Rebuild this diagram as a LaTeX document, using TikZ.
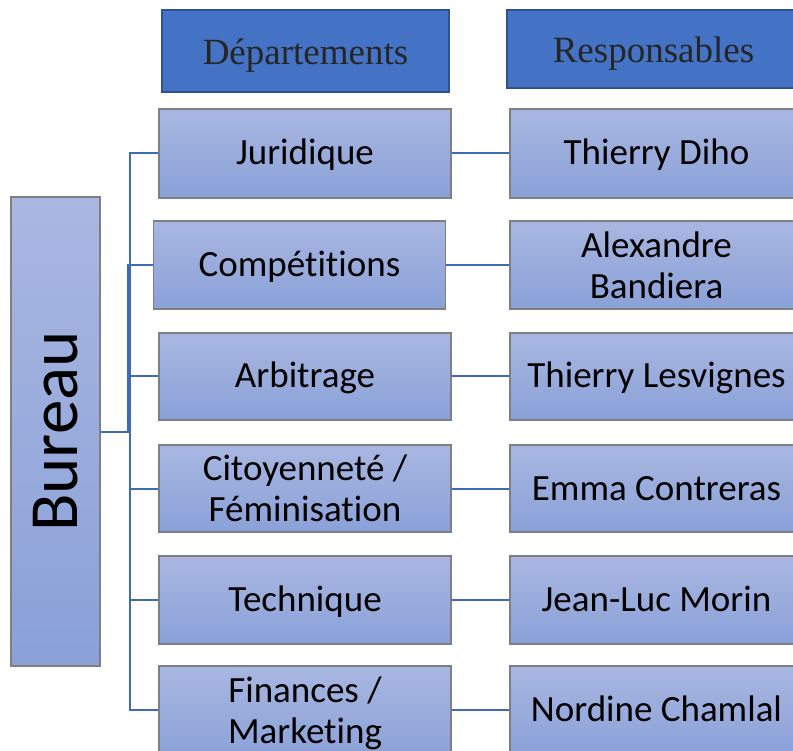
\documentclass[tikz,border=0pt]{standalone}
\usepackage{fontspec}
\setmainfont{Carlito}[Ligatures={NoCommon,NoContextual}]
\newfontfamily\timesf{Liberation Serif}
\definecolor{hdrfill}{HTML}{4472C4}
\definecolor{hdrdraw}{HTML}{2F528F}
\definecolor{hdrtext}{HTML}{262626}
\definecolor{boxtop}{HTML}{A9B7E1}
\definecolor{boxbot}{HTML}{8AA1D8}
\definecolor{boxdraw}{HTML}{7F7F7F}
\definecolor{linkcol}{HTML}{3F6AB8}
\begin{document}
\begin{tikzpicture}[x=1pt,y=-1pt,
  hdr/.style={draw=hdrdraw, line width=1.8pt, fill=hdrfill, inner sep=0pt,
    text=hdrtext, font=\timesf\fontsize{37}{41}\selectfont,
    text height=32pt, text depth=4pt},
  gbox/.style={draw=boxdraw, line width=1.1pt, top color=boxtop, bottom color=boxbot,
    inner sep=0pt, align=center, font=\fontsize{37}{41}\selectfont},
  one/.style={text height=30pt, text depth=7pt},
  dept/.style={gbox, minimum width=292pt, minimum height=89pt},
  resp/.style={gbox, minimum width=293pt, minimum height=88pt},
  link/.style={draw=linkcol, line width=2pt}
]
\useasboundingbox (0,0) rectangle (793,751);
% headers
\node[hdr, minimum width=287pt, minimum height=82pt] (hd) at (305.5,51) {Départements};
\node[hdr, minimum width=293pt, minimum height=78pt] (hr) at (653.5,49) {Responsables};
% bureau
\node[gbox, minimum width=89pt, minimum height=469pt] (bureau) at (55.5,431.5) {};
\node[rotate=90, font=\fontsize{69}{75}\selectfont, inner sep=0pt] (bt) at (bureau.center) {Bureau};
% departments
\node[dept, one] (d1) at (305,153.5) {Juridique};
\node[dept, one, minimum height=88pt] (d2) at (299.5,265) {Compét\kern0pt itions};
\node[dept, one, minimum height=87pt] (d3) at (305,376.5) {Arbitrage};
\node[dept, minimum height=87pt] (d4) at (305,488.5) {Citoyenneté /\\Féminisation};
\node[dept, one, minimum height=88pt] (d5) at (305,600) {Technique};
\node[dept, minimum height=94pt] (d6) at (305,713) {Finances /\\Marketing};
% responsables
\node[resp, one, minimum height=89pt] (r1) at (656.5,153.5) {Thierry Diho};
\node[resp] (r2) at (656.5,265) {Alexandre\\Bandiera};
\node[resp, one, minimum height=87pt] (r3) at (656.5,376.5) {Thierry Lesvignes};
\node[resp, one, minimum height=87pt] (r4) at (656.5,488.5) {Emma Contreras};
\node[resp, one] (r5) at (656.5,600) {Jean-Luc Morin};
\node[resp, one] (r6) at (656.5,710) {Nordine Chamlal};
% connectors bureau -> departments
\foreach \d in {d1,d3,d4,d5}{
  \draw[link] (bureau.east) -- ++(29,0) |- (\d.west);
}
\draw[link] (bureau.east) -- ++(29,0) |- (r6.west -| d6.west);
\draw[link] (bureau.east) -- ++(27,0) |- (d2.west);
% connectors departments -> responsables
\foreach \i in {1,...,5}{
  \draw[link] (d\i.east) -- (r\i.west);
}
\draw[link] (r6.west -| d6.east) -- (r6.west);
\end{tikzpicture}
\end{document}
